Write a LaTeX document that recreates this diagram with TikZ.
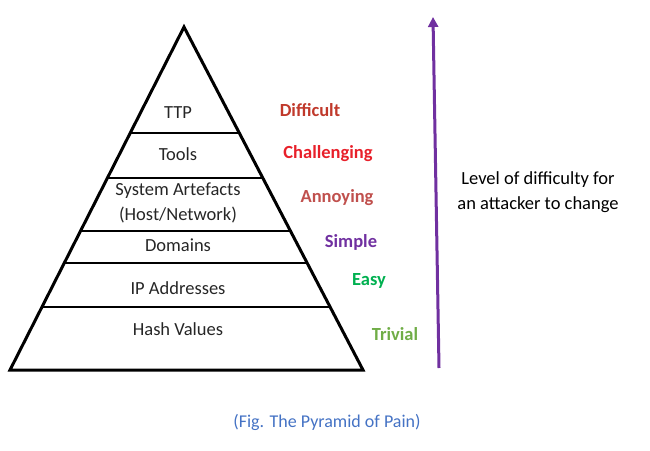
\documentclass[tikz,border=0pt]{standalone}
\usepackage{fontspec}
\setmainfont{Carlito}
\usetikzlibrary{calc,arrows.meta}
\definecolor{darkred}{HTML}{C0392B}
\definecolor{brightred}{HTML}{E8202A}
\definecolor{rosered}{HTML}{C0504D}
\definecolor{violet}{HTML}{7030A0}
\definecolor{easygreen}{HTML}{00B050}
\definecolor{leafgreen}{HTML}{70AD47}
\definecolor{capblue}{HTML}{4472C4}
\tikzset{
  layer/.style={font=\fontsize{18.5}{25.5}\selectfont, text=black!85, align=center},
  level/.style={font=\fontsize{18.5}{22}\selectfont\bfseries},
  rim/.style={line width=3pt, line join=miter},
  band/.style={line width=2.6pt}
}
\begin{document}
\begin{tikzpicture}[x=1pt,y=-1pt]
	\useasboundingbox (0,0) rectangle (650,450);
	% pyramid
	\coordinate (apex) at (184,27);
	\coordinate (bl) at (10,370);
	\coordinate (br) at (363,370);
	\draw[rim] (apex) -- (bl) -- (br) -- cycle;
	\foreach \t in {0.309,0.440,0.595,0.688,0.816}
		\draw[band] ($(apex)!\t!(bl)$) -- ($(apex)!\t!(br)$);
	% layers
	\node[layer] (ttp) at (178,113) {TTP};
	\node[layer] (tools) at (178,154) {Tools};
	\node[layer] (artefacts) at (178,203) {System Artefacts\\(Host/Network)};
	\node[layer] (domains) at (178,245) {Domains};
	\node[layer] (ip) at (178,288) {IP Addresses};
	\node[layer] (hash) at (178,329) {Hash Values};
	% levels
	\node[level, text=darkred] (difficult) at (310,110) {Difficult};
	\node[level, text=brightred] (challenging) at (328,154) {Challenging};
	\node[level, text=rosered] (annoying) at (337,198) {Annoying};
	\node[level, text=violet] (simple) at (351,242) {Simple};
	\node[level, text=easygreen] (easy) at (369,281) {Easy};
	\node[level, text=leafgreen] (trivial) at (395,334) {Trivial};
	% difficulty arrow
	\coordinate (low) at (439,368);
	\coordinate (high) at (433,17);
	\draw[violet, line width=3pt, -{Triangle[length=10pt,width=10pt]}] (low) -- (high);
	\node[layer, text=black] (note) at (538,192) {Level of difficulty for\\an attacker to change};
	% caption
	\node[font=\fontsize{18}{21}\selectfont, text=capblue] (caption) at (327,422) {(Fig. The Pyramid of Pain)};
\end{tikzpicture}
\end{document}
